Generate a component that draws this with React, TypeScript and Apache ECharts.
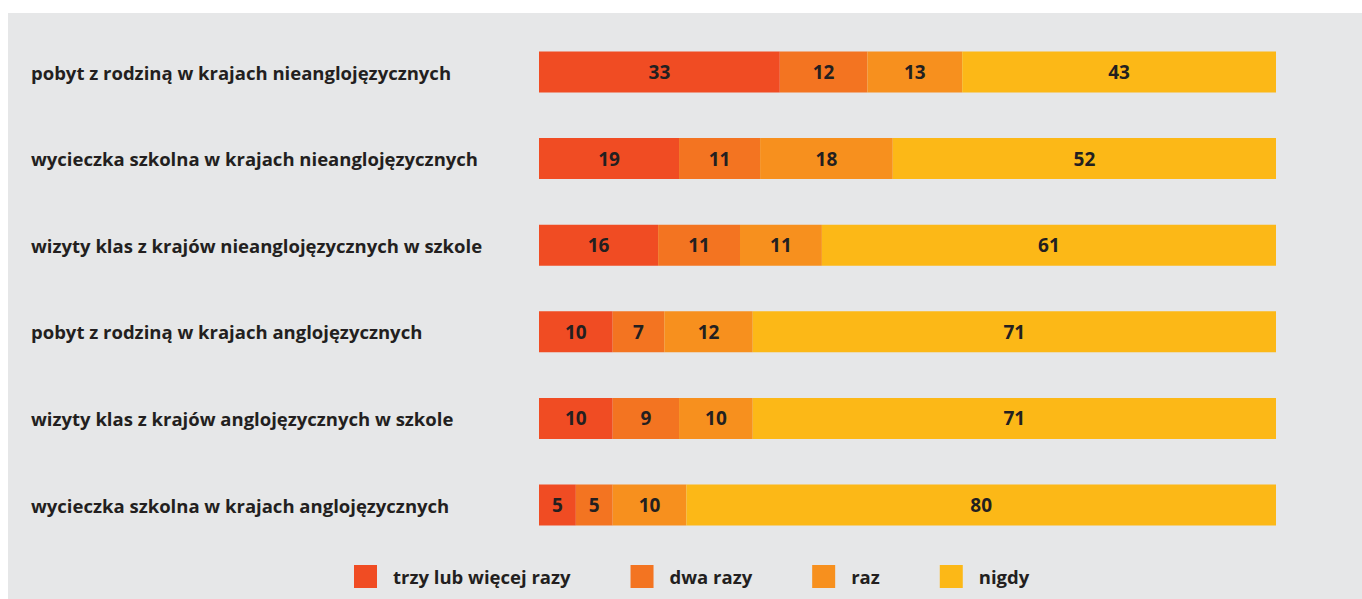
import React, { useEffect, useRef } from "react";
import * as echarts from "echarts";

const categories = [
  "pobyt z rodziną w krajach nieanglojęzycznych",
  "wycieczka szkolna w krajach nieanglojęzycznych",
  "wizyty klas z krajów nieanglojęzycznych w szkole",
  "pobyt z rodziną w krajach anglojęzycznych",
  "wizyty klas z krajów anglojęzycznych w szkole",
  "wycieczka szkolna w krajach anglojęzycznych",
];
const seriesNames = ["trzy lub więcej razy", "dwa razy", "raz", "nigdy"];
const trzyLubWiecej = [33, 19, 16, 10, 10, 5];
const dwaRazy = [12, 11, 11, 7, 9, 5];
const raz = [13, 18, 11, 12, 10, 10];
const nigdy = [43, 52, 61, 71, 71, 80];
const colors = ["#f04c23", "#f37421", "#f7901e", "#fcb817"];

const FONT = "'Open Sans', sans-serif";
const TEXT = "#231f20";

export default function App() {
  const ref = useRef<HTMLDivElement>(null);
  useEffect(() => {
    if (!ref.current) return;
    const chart = echarts.init(ref.current, null, { renderer: "svg" });
    const raw = [trzyLubWiecej, dwaRazy, raz, nigdy];
    const totals = categories.map((_, i) => raw.reduce((s, arr) => s + arr[i], 0));
    chart.setOption({
      animation: false,
      backgroundColor: "#e6e7e8",
      textStyle: { fontFamily: FONT },
      grid: { left: 531, right: 86, top: 15.7, bottom: 50.7 },
      xAxis: { type: "value", min: 0, max: 100, show: false },
      yAxis: {
        type: "category",
        inverse: true,
        data: categories,
        axisLine: { show: false },
        axisTick: { show: false },
        axisLabel: {
          align: "left",
          margin: 508,
          fontFamily: FONT,
          fontSize: 18.5,
          fontWeight: "bold",
          color: TEXT,
        },
      },
      legend: {
        left: 346,
        top: 552,
        padding: 0,
        itemWidth: 23,
        itemHeight: 23,
        itemGap: 60,
        icon: "rect",
        textStyle: {
          fontFamily: FONT,
          fontSize: 18.5,
          fontWeight: "bold",
          color: TEXT,
          lineHeight: 23,
          padding: [0, 0, 0, 11],
        },
        data: seriesNames,
      },
      series: raw.map((arr, si) => ({
        name: seriesNames[si],
        type: "bar",
        stack: "total",
        barWidth: 41,
        itemStyle: { color: colors[si] },
        label: {
          show: true,
          position: "inside",
          fontFamily: FONT,
          fontSize: 19,
          fontWeight: "bold",
          color: TEXT,
          formatter: (p: any) => String(arr[p.dataIndex]),
        },
        data: arr.map((v, i) => (v / totals[i]) * 100),
      })),
    });
    return () => chart.dispose();
  }, []);
  return (
    <div
      ref={ref}
      style={{ position: "absolute", left: 8, top: 13, width: 1354, height: 586 }}
    />
  );
}
